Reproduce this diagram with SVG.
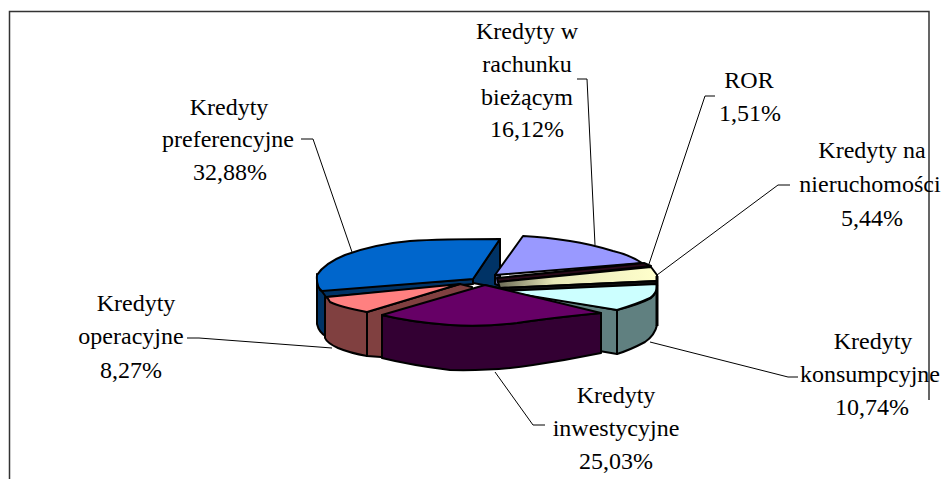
<svg xmlns="http://www.w3.org/2000/svg" width="943" height="479" viewBox="0 0 943 479">
<style>
.lbl{font-family:"Liberation Serif","Times New Roman",serif;font-size:24px;fill:#000;text-anchor:middle}
.pie{stroke:#000;stroke-width:2;stroke-linejoin:round}
.lead{fill:none;stroke:#000;stroke-width:1}
.frame{fill:none;stroke:#333;stroke-width:1.5}
</style>
<defs>
<linearGradient id="yel" x1="0" y1="0" x2="1" y2="0">
<stop offset="0" stop-color="#6b6b55"/>
<stop offset="0.35" stop-color="#e8e8b8"/>
<stop offset="1" stop-color="#FFFFCC"/>
</linearGradient>
</defs>
<path class="frame" d="M9.5,479 V11.5 H929 V400"/>
<g id="slice-preferencyjne">
<path class="pie" fill="#003366" d="M317,274 L317,324 Q319,333 327,337 L327,295 L320,290 Z"/>
<path class="pie" fill="#003366" d="M500,239 L500,288 L473,283 L473,279 Z"/>
<path class="pie" fill="#003366" d="M321,290 L473,279 L473,284 L326,297 Z"/>
<path class="pie" fill="#0066CC" d="M500,239 L473,279 L322,291 Q316,287 317,275 Q325,263 345,255 Q375,244 410,241 Q440,239 500,239 Z"/>
</g>
<g id="slice-rachunek">
<path class="pie" fill="#6E6EB0" d="M495,275 L500,276 L500,286 L495,284 Z"/>
<path class="pie" fill="#9999FF" d="M523,236 L495,275 L642,263 Q630,255 613,251 Q590,244 570,241 Q545,237 523,236 Z"/>
</g>
<g id="slice-ror">
<path class="pie" fill="#2a0a1a" d="M497,278 L644,263 L651,266 L498,282 Z"/>
</g>
<g id="slice-nieruchomosci">
<path class="pie" fill="url(#yel)" d="M498,282 L651,267 L657,275 L657,281 L500,288 Z"/>
<path class="pie" fill="#111" d="M500,288 L657,281 L657,285 L500,291 Z"/>
</g>
<g id="slice-konsumpcyjne">
<path class="pie" fill="#608080" d="M497,289 L617,310 L617,354 L500,334 Z"/>
<path class="pie" fill="#608080" d="M617,310 Q640,304 651,298 Q658,292 657,284 L657,325 Q655,335 645,342 Q630,350 617,354 Z"/>
<path class="pie" fill="#CCFFFF" d="M500,291 L657,284 Q658,292 650,298 Q637,304 617,310 Z"/>
<path fill="none" stroke="#000" stroke-width="3" d="M657,276 V326"/>
</g>
<g id="slice-operacyjne">
<path class="pie" fill="#804040" d="M325,297 L367,312 L367,356 Q350,353 338,348 Q327,343 325,338 Z"/>
<path class="pie" fill="#804040" d="M367,312 L460,284 L472,287 L472,330 L381,357 L367,356 Z"/>
<path class="pie" fill="#FF8080" d="M327,297 L460,284 L367,312 Q340,307 330,302 Z"/>
</g>
<g id="slice-inwestycyjne">
<path class="pie" fill="#330033" d="M382,315 Q410,322 450,325 Q483,327 517,323 Q550,318 601,313 L601,353 Q567,360 533,365 Q497,371 450,370 Q410,365 382,358 Z"/>
<path class="pie" fill="#660066" d="M485,285 L601,313 Q550,318 517,323 Q483,327 450,325 Q410,322 382,315 Z"/>
</g>
<g id="connectors">
<path class="lead" d="M301,139 H313 L352,252"/>
<path class="lead" d="M577,79 H587 L595,245"/>
<path class="lead" d="M715,96 H705 L649,264"/>
<path class="lead" d="M790,185 H778 L657,275"/>
<path class="lead" d="M187,338 H199 L332,348"/>
<path class="lead" d="M495,372 L533,425 H545"/>
<path class="lead" d="M650,342 L788,377 H798"/>
</g>
<g id="label-rachunek">
<text class="lbl" x="527" y="39">Kredyty w</text>
<text class="lbl" x="527" y="72">rachunku</text>
<text class="lbl" x="527" y="105">bieżącym</text>
<text class="lbl" x="527" y="137">16,12%</text>
</g>
<g id="label-ror">
<text class="lbl" x="749" y="88">ROR</text>
<text class="lbl" x="750" y="121">1,51%</text>
</g>
<g id="label-nieruchomosci">
<text class="lbl" x="872" y="158">Kredyty na</text>
<text class="lbl" x="870" y="192">nieruchomości</text>
<text class="lbl" x="872" y="226">5,44%</text>
</g>
<g id="label-preferencyjne">
<text class="lbl" x="229" y="115">Kredyty</text>
<text class="lbl" x="228" y="147">preferencyjne</text>
<text class="lbl" x="230" y="180">32,88%</text>
</g>
<g id="label-operacyjne">
<text class="lbl" x="136" y="311">Kredyty</text>
<text class="lbl" x="131" y="344">operacyjne</text>
<text class="lbl" x="131" y="378">8,27%</text>
</g>
<g id="label-inwestycyjne">
<text class="lbl" x="616" y="403">Kredyty</text>
<text class="lbl" x="616" y="436">inwestycyjne</text>
<text class="lbl" x="616" y="469">25,03%</text>
</g>
<g id="label-konsumpcyjne">
<text class="lbl" x="873" y="349">Kredyty</text>
<text class="lbl" x="870" y="382">konsumpcyjne</text>
<text class="lbl" x="872" y="415">10,74%</text>
</g>
</svg>
